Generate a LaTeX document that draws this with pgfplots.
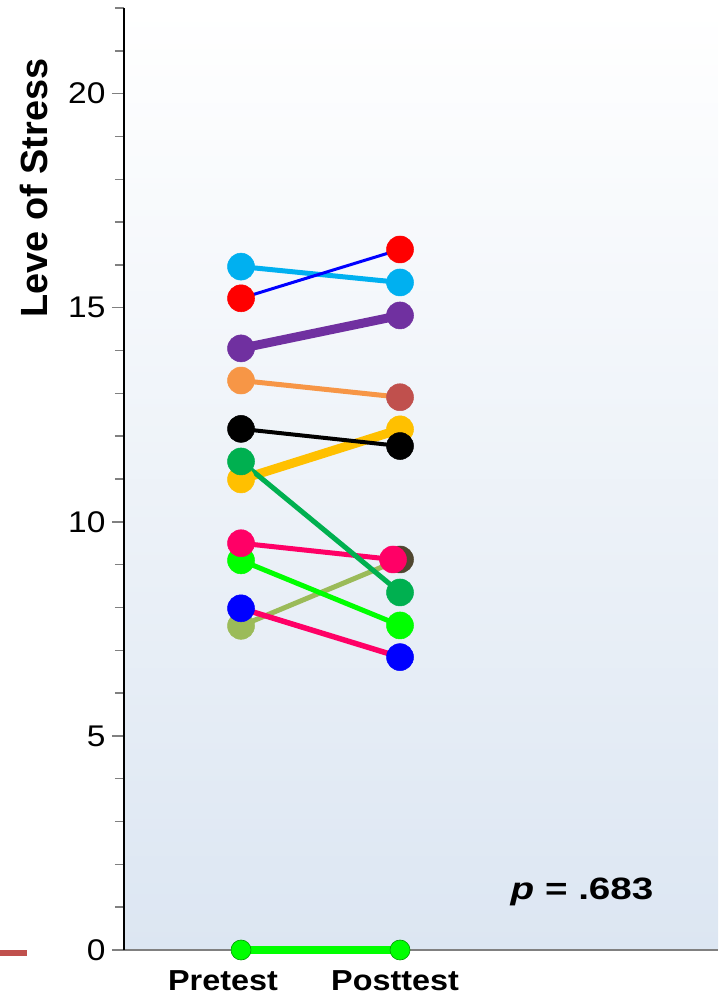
\documentclass[border=0pt]{standalone}
\usepackage{pgfplots}
\pgfplotsset{compat=1.18}
\usepackage{fontspec}
\setmainfont{Liberation Sans}
\newfontfamily\tickfont[FakeStretch=1.12]{Liberation Sans}
\newfontfamily\pfont[FakeStretch=1.25]{Liberation Sans}
\definecolor{ccyan}{HTML}{00B0F0}
\definecolor{cred}{HTML}{FF0000}
\definecolor{cblue}{HTML}{0000FF}
\definecolor{cpurple}{HTML}{7030A0}
\definecolor{corange}{HTML}{F79646}
\definecolor{cbrown}{HTML}{C0504D}
\definecolor{cgold}{HTML}{FFC000}
\definecolor{cdgreen}{HTML}{00B050}
\definecolor{cpink}{HTML}{FF0066}
\definecolor{clime}{HTML}{00FF00}
\definecolor{colive}{HTML}{9BBB59}
\definecolor{cdolive}{HTML}{4F4630}
\definecolor{bgbot}{RGB}{220,230,242}
\begin{document}
\begin{tikzpicture}
\useasboundingbox (0,0) rectangle (721bp,997bp);
\draw[cbrown, line width=6bp] (0,44bp) -- (27bp,44bp);
\begin{axis}[
  at={(124bp,47bp)}, anchor=south west,
  scale only axis, width=594bp, height=942bp,
  xmin=-0.736, xmax=3.0, ymin=0, ymax=22,
  clip=false,
  axis background/.style={shade, top color=white, bottom color=bgbot},
  axis x line*=bottom, axis y line*=left,
  x axis line style={draw=gray, line width=1.8bp},
  y axis line style={draw=black, line width=1.3bp},
  xtick={0,1}, xticklabels={Pretest\hspace*{36bp},Posttest\hspace*{10bp}},
  x tick label style={font=\fontsize{29}{34}\selectfont\tickfont\bfseries, yshift=-5bp},
  major x tick style={draw=none},
  ytick={0,5,10,15,20}, minor ytick={0,...,22},
  tick align=outside,
  major tick length=12bp, minor tick length=9bp,
  y tick style={draw=gray, line width=1.5bp},
  y tick label style={font=\fontsize{30}{36}\selectfont\tickfont, xshift=-3bp},
  /pgf/number format/assume math mode=true,
  every axis plot/.append style={mark options={line width=0.5bp}},
  every axis y label/.style={at={(axis description cs:-0.128,0.809)}, rotate=90, anchor=south, inner sep=0pt},
  ylabel={\fontsize{38}{44}\selectfont\bfseries Leve of Stress},
]
% olive series
\addplot[colive, line width=5bp] coordinates {(0,7.57) (1,9.12)};
\addplot[only marks, mark=*, mark size=13.5bp, colive] coordinates {(0,7.57)};
\addplot[only marks, mark=*, mark size=13.5bp, cdolive] coordinates {(1,9.12)};
% blue markers, pink line
\addplot[cpink, line width=5.5bp] coordinates {(0,7.98) (1,6.84)};
\addplot[only marks, mark=*, mark size=13.5bp, cblue] coordinates {(0,7.98) (1,6.84)};
% lime
\addplot[clime, line width=5bp, mark=*, mark size=13.5bp] coordinates {(0,9.10) (1,7.58)};
% pink
\addplot[cpink, line width=5bp, mark=*, mark size=13.5bp] coordinates {(0,9.50) (0.956,9.12)};
% gold
\addplot[cgold, line width=9bp, mark=*, mark size=13.5bp] coordinates {(0,10.99) (1,12.16)};
% dark green
\addplot[cdgreen, line width=5bp, mark=*, mark size=13.5bp] coordinates {(0,11.41) (1,8.35)};
% black
\addplot[black, line width=4bp, mark=*, mark size=13.5bp] coordinates {(0,12.17) (1,11.77)};
% orange -> brown
\addplot[corange, line width=5bp] coordinates {(0,13.30) (1,12.91)};
\addplot[only marks, mark=*, mark size=13.5bp, corange] coordinates {(0,13.30)};
\addplot[only marks, mark=*, mark size=13.5bp, cbrown] coordinates {(1,12.91)};
% purple
\addplot[cpurple, line width=9bp, mark=*, mark size=13.5bp] coordinates {(0,14.05) (1,14.82)};
% cyan
\addplot[ccyan, line width=5bp, mark=*, mark size=13.5bp] coordinates {(0,15.96) (1,15.59)};
% red markers, blue line
\addplot[cblue, line width=3bp] coordinates {(0,15.22) (1,16.36)};
\addplot[only marks, mark=*, mark size=13.5bp, cred] coordinates {(0,15.22) (1,16.36)};
% zero line
\addplot[clime, line width=7bp, mark=*, mark size=10bp, mark options={fill=clime, draw=clime!60!black, line width=0.6bp}] coordinates {(0,0) (1,0)};
\node[anchor=base, inner sep=0pt, font=\fontsize{31}{36}\selectfont\pfont\bfseries] at (axis cs:2.145,1.19) {\textit{p} = .683};
\end{axis}
\end{tikzpicture}
\end{document}
